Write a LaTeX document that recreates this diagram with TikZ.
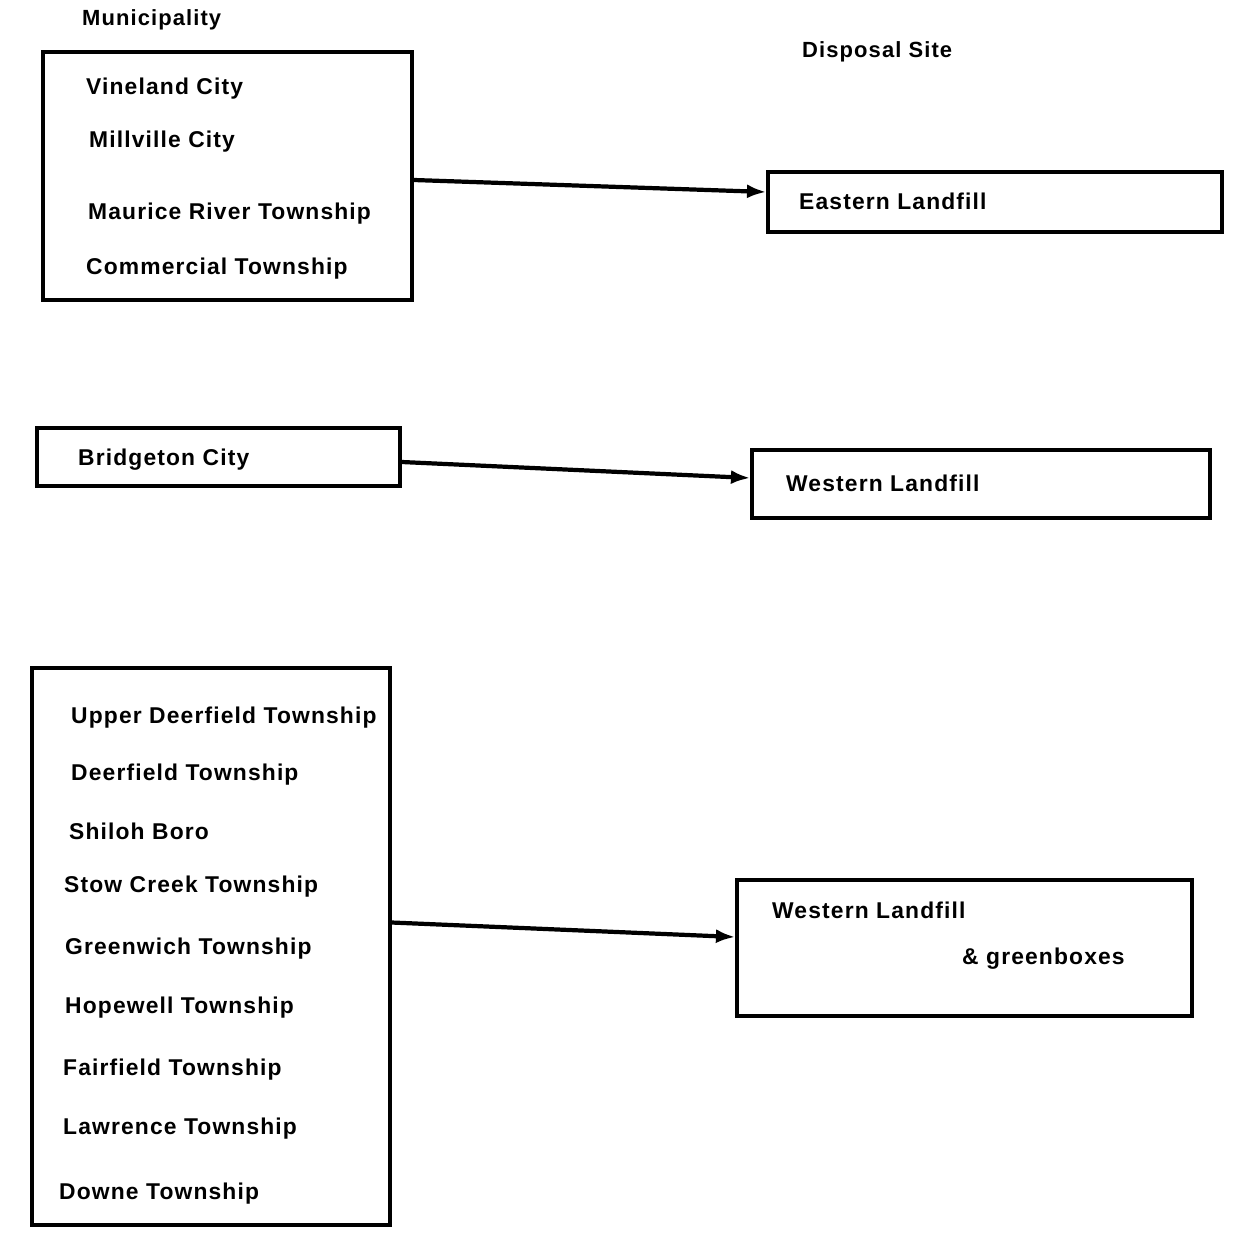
\documentclass[tikz,border=0pt]{standalone}
\usepackage{fontspec}
\setmainfont{Liberation Sans}[LetterSpace=5]
\usetikzlibrary{arrows.meta}

\begin{document}
\begin{tikzpicture}
[x=0.02cm,y=-0.02cm,
 box/.style={rectangle,draw,line width=2pt,inner sep=0pt},
 headtext/.style={anchor=west,font=\fontsize{12.5}{14}\selectfont\bfseries},
 placetext/.style={anchor=west,font=\fontsize{13}{15}\selectfont\bfseries},
 link/.style={line width=2.4pt,-{Latex[length=11pt,width=8pt]}}]
\useasboundingbox (0,0) rectangle (1233,1236);
% titles
\node[headtext] (munihead) at (76,20) {Municipality};
\node[headtext] (sitehead) at (796,52) {Disposal Site};
% boxes
\node[box,minimum width=7.38cm,minimum height=4.96cm] (upper)    at (227.5,176) {};
\node[box,minimum width=9.08cm,minimum height=1.2cm]  (eastern)  at (995,202) {};
\node[box,minimum width=7.26cm,minimum height=1.16cm] (bridge)   at (218.5,457) {};
\node[box,minimum width=9.16cm,minimum height=1.36cm] (western)  at (981,484) {};
\node[box,minimum width=7.16cm,minimum height=11.14cm] (lower)   at (211,946.5) {};
\node[box,minimum width=9.1cm,minimum height=2.72cm]  (green)    at (964.5,948) {};
% names
\node[placetext] (vineland) at (80,89)   {Vineland City};
\node[placetext] (millvill) at (83,142)  {Millville City};
\node[placetext] (maurice)  at (82,214)  {Maurice River Township};
\node[placetext] (commerc)  at (80,269)  {Commercial Township};
\node[placetext] (eastfill) at (793,201) {Eastern Landfill};
\node[placetext] (bridgtn)  at (72,460)  {Bridgeton City};
\node[placetext] (westfill) at (780,483) {Western Landfill};
\node[placetext] (updeer)   at (65,718)  {Upper Deerfield Township};
\node[placetext] (deerfld)  at (65,775)  {Deerfield Township};
\node[placetext] (shiloh)   at (63,831)  {Shiloh Boro};
\node[placetext] (stow)     at (58,887)  {Stow Creek Township};
\node[placetext] (greenw)   at (59,949)  {Greenwich Township};
\node[placetext] (hopewl)   at (59,1008) {Hopewell Township};
\node[placetext] (fairfld)  at (57,1070) {Fairfield Township};
\node[placetext] (lawrnc)   at (57,1129) {Lawrence Township};
\node[placetext] (downe)    at (53,1194) {Downe Township};
\node[placetext] (westgrn)  at (766,910) {Western Landfill};
\node[placetext] (grnbox)   at (956,959) {\& greenboxes};
% arrows
\draw[link] ([yshift=-0.08cm]upper.east) -- ([yshift=0.2cm]eastern.west);
\draw[link] ([yshift=-0.1cm]bridge.east) -- ([yshift=0.12cm]western.west);
\draw[link] ([yshift=0.48cm]lower.east) -- ([yshift=0.22cm]green.west);
\end{tikzpicture}
\end{document}
